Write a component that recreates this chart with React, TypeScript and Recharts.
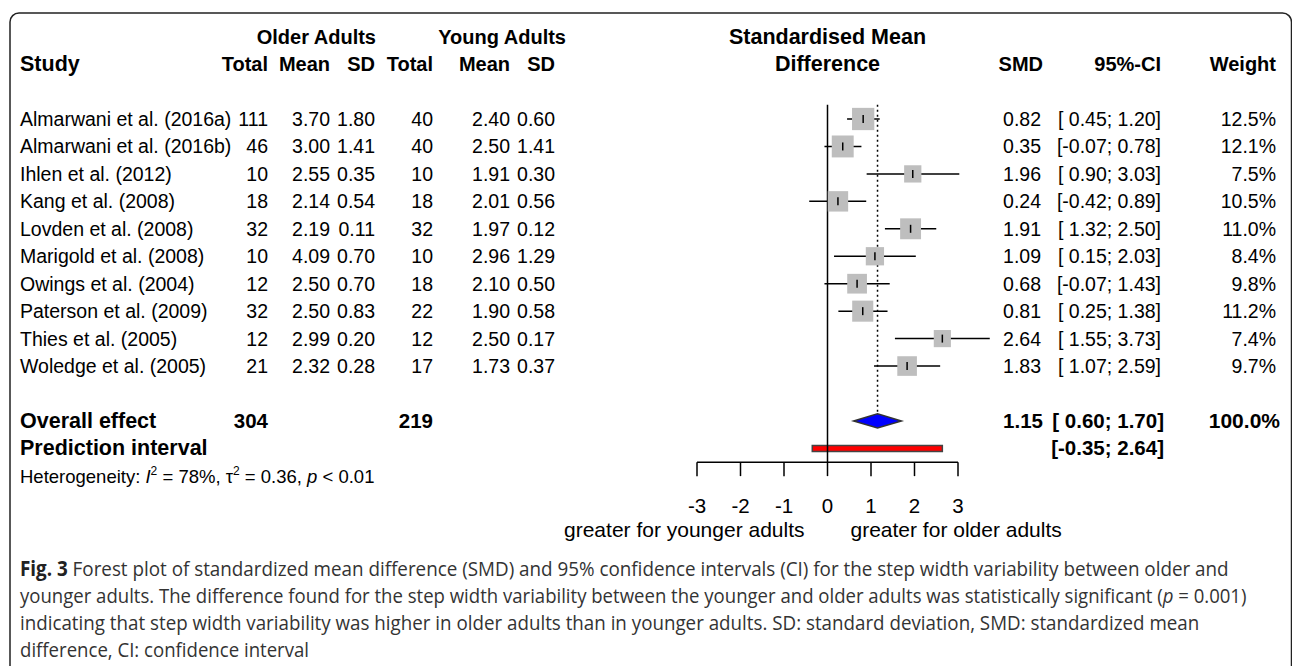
import React, { useLayoutEffect, useRef, useState } from 'react';
import {
  ComposedChart,
  Scatter,
  XAxis,
  YAxis,
  ReferenceLine,
  ReferenceArea,
  ErrorBar,
  Customized,
} from 'recharts';

// ---------- data ----------
const studies = [
  'Almarwani et al. (2016a)',
  'Almarwani et al. (2016b)',
  'Ihlen et al. (2012)',
  'Kang et al. (2008)',
  'Lovden et al. (2008)',
  'Marigold et al. (2008)',
  'Owings et al. (2004)',
  'Paterson et al. (2009)',
  'Thies et al. (2005)',
  'Woledge et al. (2005)',
];
const olderTotal = [111, 46, 10, 18, 32, 10, 12, 32, 12, 21];
const olderMean = ['3.70', '3.00', '2.55', '2.14', '2.19', '4.09', '2.50', '2.50', '2.99', '2.32'];
const olderSD = ['1.80', '1.41', '0.35', '0.54', '0.11', '0.70', '0.70', '0.83', '0.20', '0.28'];
const youngTotal = [40, 40, 10, 18, 32, 10, 18, 22, 12, 17];
const youngMean = ['2.40', '2.50', '1.91', '2.01', '1.97', '2.96', '2.10', '1.90', '2.50', '1.73'];
const youngSD = ['0.60', '1.41', '0.30', '0.56', '0.12', '1.29', '0.50', '0.58', '0.17', '0.37'];
const smd = [0.82, 0.35, 1.96, 0.24, 1.91, 1.09, 0.68, 0.81, 2.64, 1.83];
const ciLow = [0.45, -0.07, 0.9, -0.42, 1.32, 0.15, -0.07, 0.25, 1.55, 1.07];
const ciHigh = [1.2, 0.78, 3.03, 0.89, 2.5, 2.03, 1.43, 1.38, 3.73, 2.59];
const weights = [12.5, 12.1, 7.5, 10.5, 11.0, 8.4, 9.8, 11.2, 7.4, 9.7];

const overallTotals = [304, 219];
const overallEffect = [1.15, 0.6, 1.7];
const predictionInterval = [-0.35, 2.64];
const xTicks = [-3, -2, -1, 0, 1, 2, 3];

// ---------- layout ----------
const W = 1292;
const H = 666;
const ROW0 = 119;
const ROWH = 27.45;
const Y_MIN = -1;
const Y_MAX = 12.5;
const X_MIN = -4;
const X_MAX = 4;
const UNIT = 43.5;
const X0 = 827.5;
const rowY = (r: number) => ROW0 + ROWH * r;
const FONT = '"Liberation Sans", Arial, Helvetica, sans-serif';
const CAPFONT = '"Open Sans", "Noto Sans", sans-serif';
const FS = 19.5;
const base = (r: number, fs = FS) => rowY(r) + 0.36 * fs;

const studyData = studies.map((s, i) => ({
  x: smd[i],
  y: i,
  w: weights[i],
  err: [smd[i] - ciLow[i], ciHigh[i] - smd[i]],
}));

const f2 = (v: number) => (v < 0 ? v.toFixed(2) : ' ' + v.toFixed(2));
const ciText = (lo: number, hi: number) => `[${f2(lo)}; ${hi.toFixed(2)}]`;

const COL = {
  study: 20,
  oTot: 268,
  oMean: 330,
  oSD: 375,
  yTot: 433,
  yMean: 510,
  ySD: 555,
  smd: 1041,
  ci: 1161,
  wt: 1276,
};

const SquareShape = (props: any) => {
  const { cx, cy, payload } = props;
  const s = 6.3 * Math.sqrt(payload.w);
  return <rect x={cx - s / 2} y={cy - s / 2} width={s} height={s} fill="#BEBEBE" />;
};

const TickShape = (props: any) => {
  const { cx, cy } = props;
  return <line x1={cx} x2={cx} y1={cy - 4} y2={cy + 4} stroke="#000" strokeWidth={1.5} />;
};

const DiamondShape = (props: any) => {
  const { x, y, width, height } = props;
  const cx = x + width / 2;
  const cy = y + height / 2;
  return (
    <polygon
      points={`${x},${cy} ${cx},${y} ${x + width},${cy} ${cx},${y + height}`}
      fill="#0000FF"
      stroke="#333"
      strokeWidth={1.5}
    />
  );
};

const T = (p: any) => (
  <text
    x={p.x}
    y={p.y}
    textAnchor={p.anchor || 'start'}
    fontFamily={FONT}
    fontSize={p.fs || (p.bold ? 20 : FS)}
    fontWeight={p.bold ? 'bold' : 'normal'}
    fill="#000"
  >
    {p.children}
  </text>
);

const CaptionLine = ({ x, y, width, children }: any) => {
  const ref = useRef<SVGTextElement>(null);
  const [sx, setSx] = useState(0.8);
  useLayoutEffect(() => {
    if (ref.current) {
      const len = ref.current.getComputedTextLength();
      if (len > 0) setSx(width / len);
    }
  }, [width]);
  return (
    <g transform={`translate(${x},${y}) scale(${sx},1)`}>
      <text ref={ref} x={0} y={0} fontFamily={CAPFONT} fontSize={20.5} fill="#333">
        {children}
      </text>
    </g>
  );
};

const Texts = () => {
  const h1 = base(-3);
  const h2 = base(-2);
  return (
    <g>
      {/* frame */}
      <rect x={10} y={13} width={1281.5} height={720} rx={9} ry={9} fill="none" stroke="#222" strokeWidth={1.5} />
      {/* header */}
      <T x={376} y={h1} anchor="end" bold>Older Adults</T>
      <T x={566} y={h1} anchor="end" bold>Young Adults</T>
      <T x={X0} y={h1} anchor="middle" bold fs={21.5}>Standardised Mean</T>
      <T x={COL.study} y={h2} bold fs={21.5}>Study</T>
      <T x={COL.oTot} y={h2} anchor="end" bold>Total</T>
      <T x={COL.oMean} y={h2} anchor="end" bold>Mean</T>
      <T x={COL.oSD} y={h2} anchor="end" bold>SD</T>
      <T x={COL.yTot} y={h2} anchor="end" bold>Total</T>
      <T x={COL.yMean} y={h2} anchor="end" bold>Mean</T>
      <T x={COL.ySD} y={h2} anchor="end" bold>SD</T>
      <T x={X0} y={h2} anchor="middle" bold fs={21.5}>Difference</T>
      <T x={1043} y={h2} anchor="end" bold>SMD</T>
      <T x={COL.ci} y={h2} anchor="end" bold>95%-CI</T>
      <T x={COL.wt} y={h2} anchor="end" bold>Weight</T>
      {/* study rows */}
      {studies.map((s, i) => {
        const y = base(i);
        return (
          <g key={s}>
            <T x={COL.study} y={y}>{s}</T>
            <T x={COL.oTot} y={y} anchor="end">{olderTotal[i]}</T>
            <T x={COL.oMean} y={y} anchor="end">{olderMean[i]}</T>
            <T x={COL.oSD} y={y} anchor="end">{olderSD[i]}</T>
            <T x={COL.yTot} y={y} anchor="end">{youngTotal[i]}</T>
            <T x={COL.yMean} y={y} anchor="end">{youngMean[i]}</T>
            <T x={COL.ySD} y={y} anchor="end">{youngSD[i]}</T>
            <T x={COL.smd} y={y} anchor="end">{smd[i].toFixed(2)}</T>
            <T x={COL.ci} y={y} anchor="end">{ciText(ciLow[i], ciHigh[i])}</T>
            <T x={COL.wt} y={y} anchor="end">{weights[i].toFixed(1) + '%'}</T>
          </g>
        );
      })}
      {/* overall */}
      <T x={COL.study} y={base(11)} bold fs={21.5}>Overall effect</T>
      <T x={COL.oTot} y={base(11)} anchor="end" bold fs={20.5}>{overallTotals[0]}</T>
      <T x={COL.yTot} y={base(11)} anchor="end" bold fs={20.5}>{overallTotals[1]}</T>
      <T x={COL.smd + 2} y={base(11)} anchor="end" bold fs={20.5}>{overallEffect[0].toFixed(2)}</T>
      <T x={COL.ci + 3} y={base(11)} anchor="end" bold fs={20.5}>{ciText(overallEffect[1], overallEffect[2])}</T>
      <T x={COL.wt + 4} y={base(11)} anchor="end" bold fs={21}>100.0%</T>
      <T x={COL.study} y={base(12)} bold fs={21.5}>Prediction interval</T>
      <T x={COL.ci + 3} y={base(12)} anchor="end" bold fs={20.5}>{ciText(predictionInterval[0], predictionInterval[1])}</T>
      {/* heterogeneity */}
      <text x={COL.study} y={base(13, 18.5)} fontFamily={FONT} fontSize={18.5} fill="#000">
        Heterogeneity: <tspan fontStyle="italic">I</tspan>
        <tspan fontSize={12} dy={-8}>2</tspan>
        <tspan dy={8}> = 78%, τ</tspan>
        <tspan fontSize={12} dy={-8}>2</tspan>
        <tspan dy={8}> = 0.36, </tspan>
        <tspan fontStyle="italic">p</tspan> &lt; 0.01
      </text>
      {/* x labels */}
      <T x={X0 - 23} y={537} anchor="end" fs={21}>greater for younger adults</T>
      <T x={X0 + 23} y={537} fs={21}>greater for older adults</T>
      {/* caption */}
      <CaptionLine x={20} y={576} width={1208}>
        <tspan fontWeight="bold" fill="#222">Fig. 3</tspan> Forest plot of standardized mean difference (SMD) and 95% confidence intervals (CI) for the step width variability between older and
      </CaptionLine>
      <CaptionLine x={20} y={603} width={1226}>
        younger adults. The difference found for the step width variability between the younger and older adults was statistically significant (<tspan fontStyle="italic">p</tspan> = 0.001)
      </CaptionLine>
      <CaptionLine x={20} y={630} width={1179}>
        indicating that step width variability was higher in older adults than in younger adults. SD: standard deviation, SMD: standardized mean
      </CaptionLine>
      <CaptionLine x={20} y={657} width={289}>
        difference, CI: confidence interval
      </CaptionLine>
    </g>
  );
};

export default function App() {
  const plotTop = rowY(Y_MIN);
  const plotBottom = rowY(Y_MAX);
  const left = X0 + X_MIN * UNIT;
  const right = W - (X0 + X_MAX * UNIT);
  return (
    <div style={{ position: 'absolute', left: 0, top: 0, background: '#fff' }}>
      <ComposedChart
        width={W}
        height={H}
        margin={{ top: plotTop, bottom: H - plotBottom - 30, left, right }}
      >
        <XAxis
          type="number"
          dataKey="x"
          domain={[X_MIN, X_MAX]}
          ticks={xTicks}
          interval={0}
          axisLine={false}
          tickLine={{ stroke: '#000', strokeWidth: 1.5 }}
          tickSize={14}
          tickMargin={22}
          height={30}
          tick={{ fill: '#000', fontSize: 20.5, fontFamily: FONT }}
        />
        <YAxis type="number" dataKey="y" domain={[Y_MIN, Y_MAX]} reversed hide />
        <ReferenceLine
          segment={[{ x: 0, y: -0.52 }, { x: 0, y: Y_MAX }]}
          stroke="#000"
          strokeWidth={1.5}
        />
        <ReferenceLine
          segment={[{ x: overallEffect[0], y: -0.52 }, { x: overallEffect[0], y: 10.7 }]}
          stroke="#000"
          strokeWidth={1.5}
          strokeDasharray="2 3"
        />
        <ReferenceLine
          segment={[{ x: xTicks[0], y: Y_MAX }, { x: xTicks[xTicks.length - 1], y: Y_MAX }]}
          stroke="#000"
          strokeWidth={1.5}
        />
        <Scatter data={studyData} shape={SquareShape} isAnimationActive={false} />
        <Scatter data={studyData} shape={TickShape} isAnimationActive={false}>
          <ErrorBar dataKey="err" direction="x" width={0} stroke="#000" strokeWidth={1.5} isAnimationActive={false} />
        </Scatter>
        <ReferenceArea
          x1={overallEffect[1]}
          x2={overallEffect[2]}
          y1={11 - 0.26}
          y2={11 + 0.26}
          shape={DiamondShape}
        />
        <ReferenceArea
          x1={predictionInterval[0]}
          x2={predictionInterval[1]}
          y1={12 - 0.11}
          y2={12 + 0.11}
          fill="#FF0000"
          fillOpacity={1}
          stroke="#444"
          strokeWidth={1.5}
        />
        <Customized component={Texts} />
      </ComposedChart>
    </div>
  );
}
